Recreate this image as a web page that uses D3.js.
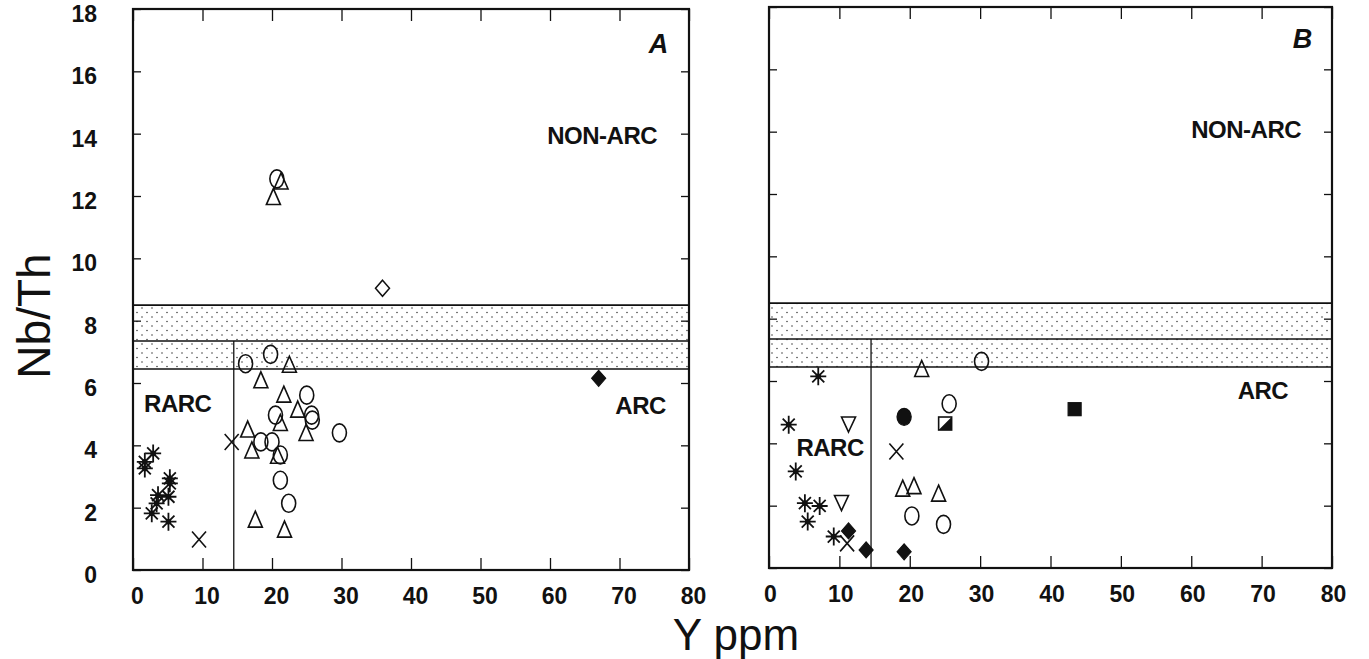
<!DOCTYPE html>
<html lang="en">
<head>
<meta charset="UTF-8">
<title>Nb/Th vs Y ppm</title>
<script src="https://cdn.jsdelivr.net/npm/d3@7/dist/d3.min.js"></script>
<style>
    body { margin: 0; background: #fff; }
    svg { font-family: "Liberation Sans", Arial, sans-serif; }
</style>
</head>
<body>
<div id="chart"></div>
<script>
    // axis ticks
    const xTicks = [0, 10, 20, 30, 40, 50, 60, 70, 80];
    const yTicks = [0, 2, 4, 6, 8, 10, 12, 14, 16, 18];

    // stippled band and RARC divider (Nb/Th and Y ppm)
    const bandLimits = [6.45, 7.35, 8.5];
    const rarcY = 14.5;

    // panel A points, [Y ppm, Nb/Th]
    const aAsterisk = [[2.9, 3.74], [1.7, 3.47], [1.7, 3.26], [5.3, 2.94], [5.3, 2.78],
        [3.6, 2.40], [5.1, 2.35], [3.4, 2.14], [2.7, 1.82], [5.1, 1.55]];
    const aCross = [[9.5, 0.98], [14.2, 4.11]];
    const aCircle = [[16.2, 6.62], [19.8, 6.92], [25.0, 5.61], [20.5, 4.97], [25.7, 4.97],
        [25.8, 4.81], [29.7, 4.40], [18.4, 4.11], [20.0, 4.11], [21.2, 3.69],
        [21.2, 2.88], [22.4, 2.14], [20.7, 12.55]];
    const aTriangle = [[22.5, 6.57], [18.4, 6.07], [21.7, 5.61], [23.7, 5.13], [21.2, 4.70],
        [24.9, 4.38], [16.5, 4.49], [17.1, 3.82], [20.8, 3.65], [17.6, 1.60],
        [21.8, 1.28], [21.3, 12.45], [20.2, 11.95]];
    const aDiamond = [[35.9, 9.04]];
    const aDiamondFilled = [[67.0, 6.15]];

    // panel B points
    const bAsterisk = [[7.0, 6.15], [2.8, 4.60], [3.8, 3.10], [5.1, 2.08], [7.2, 1.99],
        [5.5, 1.49], [9.2, 1.01]];
    const bTriangleDown = [[11.3, 4.62], [10.3, 2.10]];
    const bDiamondFilled = [[11.3, 1.19], [13.8, 0.58], [19.2, 0.52]];
    const bCross = [[11.1, 0.79], [18.1, 3.74]];
    const bCircleFilled = [[19.2, 4.85]];
    const bSquareHalf = [[25.1, 4.62]];
    const bSquareFilled = [[43.5, 5.08]];
    const bCircle = [[25.6, 5.27], [20.3, 1.67], [24.8, 1.40], [30.2, 6.63]];
    const bTriangle = [[21.7, 6.37], [19.0, 2.53], [20.6, 2.61], [24.1, 2.37]];

    const w = 1369;
    const h = 659;

    const svg = d3.select('#chart')
        .append('svg')
        .attr('width', w)
        .attr('height', h);

    // dotted fill for the transition band
    const pattern = svg.append('defs')
        .append('pattern')
        .attr('id', 'stipple')
        .attr('patternUnits', 'userSpaceOnUse')
        .attr('width', 10)
        .attr('height', 9);
    pattern.append('circle').attr('cx', 2).attr('cy', 2).attr('r', 0.8).attr('fill', '#444');
    pattern.append('circle').attr('cx', 7).attr('cy', 6.5).attr('r', 0.8).attr('fill', '#444');

    // marker shapes, drawn around 0,0
    const shapes = {
        circle: g => g.append('ellipse').attr('rx', 7).attr('ry', 9)
            .attr('fill', 'none').attr('stroke', '#111').attr('stroke-width', 1.6),
        circleFilled: g => g.append('ellipse').attr('rx', 7).attr('ry', 8.5)
            .attr('fill', '#111').attr('stroke', '#111').attr('stroke-width', 1.4),
        triangle: g => g.append('path').attr('d', 'M0,-9L7,7L-7,7Z')
            .attr('fill', 'none').attr('stroke', '#111').attr('stroke-width', 1.6),
        triangleDown: g => g.append('path').attr('d', 'M0,8L7,-7L-7,-7Z')
            .attr('fill', 'none').attr('stroke', '#111').attr('stroke-width', 1.6),
        diamond: g => g.append('path').attr('d', 'M0,-8L7,0L0,8L-7,0Z')
            .attr('fill', 'none').attr('stroke', '#111').attr('stroke-width', 1.5),
        diamondFilled: g => g.append('path').attr('d', 'M0,-8L7,0L0,8L-7,0Z')
            .attr('fill', '#111').attr('stroke', '#111').attr('stroke-width', 1.2),
        cross: g => g.append('path').attr('d', 'M-7,-8L7,8M7,-8L-7,8')
            .attr('stroke', '#111').attr('stroke-width', 1.6),
        asterisk: g => {
            g.append('path').attr('d', 'M0,-9V9M-8,0H8M-6,-6L6,6M6,-6L-6,6')
                .attr('stroke', '#111').attr('stroke-width', 1.8);
            g.append('circle').attr('r', 2.8).attr('fill', '#111');
        },
        squareHalf: g => {
            g.append('path').attr('d', 'M6,-7L6,6L-7,6Z').attr('fill', '#111');
            g.append('rect').attr('x', -7).attr('y', -7).attr('width', 13).attr('height', 13)
                .attr('fill', 'none').attr('stroke', '#111').attr('stroke-width', 1.6);
        },
        squareFilled: g => g.append('rect').attr('x', -7).attr('y', -7).attr('width', 13).attr('height', 13)
            .attr('fill', '#111').attr('stroke', '#111').attr('stroke-width', 1.2)
    };

    function drawPanel(opt) {
        const x = d3.scaleLinear().domain([0, 80]).range(opt.xRange);
        const y = d3.scaleLinear().domain([0, 18]).range(opt.yRange);
        const p = svg.append('g');

        // stippled band
        p.append('rect')
            .attr('x', x(0))
            .attr('y', y(bandLimits[2]))
            .attr('width', x(80) - x(0))
            .attr('height', y(bandLimits[0]) - y(bandLimits[2]))
            .attr('fill', 'url(#stipple)');
        bandLimits.forEach(v => {
            p.append('line')
                .attr('x1', x(0)).attr('x2', x(80))
                .attr('y1', y(v)).attr('y2', y(v))
                .attr('stroke', '#111').attr('stroke-width', 1.6);
        });
        p.append('line')
            .attr('x1', x(rarcY)).attr('x2', x(rarcY))
            .attr('y1', y(0)).attr('y2', y(bandLimits[1]))
            .attr('stroke', '#111').attr('stroke-width', 1.3);

        // axes with inward ticks
        const bottom = p.append('g')
            .attr('transform', `translate(0, ${y(0)})`)
            .call(d3.axisBottom(x).tickValues(xTicks).tickSize(-12).tickPadding(18).tickFormat(d3.format('d')));
        bottom.selectAll('text').attr('dx', opt.xLabelShift);
        p.append('g')
            .attr('transform', `translate(0, ${y(18)})`)
            .call(d3.axisTop(x).tickValues(xTicks).tickSize(-12).tickFormat(''));
        const left = p.append('g')
            .attr('transform', `translate(${x(0)}, 0)`)
            .call(d3.axisLeft(y).tickValues(yTicks).tickSize(-8).tickPadding(36)
                .tickFormat(opt.yLabels ? d3.format('d') : ''));
        left.selectAll('text').attr('dy', '0.55em');
        p.append('g')
            .attr('transform', `translate(${x(80)}, 0)`)
            .call(d3.axisRight(y).tickValues(yTicks).tickSize(-8).tickFormat(''));

        p.selectAll('.domain').remove();
        p.selectAll('.tick line').attr('stroke', '#111').attr('stroke-width', 1.3);
        p.selectAll('.tick text')
            .attr('fill', '#111')
            .style('font-size', '23px')
            .style('font-weight', 'bold');

        // frame
        p.append('rect')
            .attr('x', x(0)).attr('y', y(18))
            .attr('width', x(80) - x(0)).attr('height', y(0) - y(18))
            .attr('fill', 'none').attr('stroke', '#111').attr('stroke-width', 2.2);

        // points
        opt.series.forEach(([pts, shape]) => {
            pts.forEach(d => {
                const g = p.append('g').attr('transform', `translate(${x(d[0])}, ${y(d[1])})`);
                shapes[shape](g);
            });
        });

        // region labels
        const label = (t, xv, yv) => p.append('text')
            .attr('x', x(xv)).attr('y', y(yv))
            .attr('fill', '#111')
            .style('font-size', '24px')
            .style('font-weight', 'bold')
            .style('letter-spacing', '-0.5px')
            .text(t);
        label('NON-ARC', opt.nonArc[0], opt.nonArc[1]);
        label('ARC', opt.arc[0], opt.arc[1]);
        label('RARC', opt.rarc[0], opt.rarc[1]);

        p.append('text')
            .attr('x', x(opt.letter[1]))
            .attr('y', y(opt.letter[2]))
            .attr('text-anchor', 'middle')
            .attr('fill', '#111')
            .style('font-size', '27px')
            .style('font-style', 'italic')
            .style('font-weight', 'bold')
            .text(opt.letter[0]);
    }

    drawPanel({
        xRange: [133, 689],
        yRange: [570, 9],
        yLabels: true,
        xLabelShift: 4,
        nonArc: [59.6, 13.68],
        arc: [69.4, 5.0],
        rarc: [1.6, 5.08],
        letter: ['A', 75.6, 16.6],
        series: [[aAsterisk, 'asterisk'], [aCross, 'cross'], [aCircle, 'circle'],
            [aTriangle, 'triangle'], [aDiamond, 'diamond'], [aDiamondFilled, 'diamondFilled']]
    });

    drawPanel({
        xRange: [769, 1332],
        yRange: [568, 7],
        yLabels: false,
        xLabelShift: 1,
        nonArc: [60.0, 13.8],
        arc: [66.6, 5.43],
        rarc: [3.9, 3.6],
        letter: ['B', 75.8, 16.7],
        series: [[bAsterisk, 'asterisk'], [bTriangleDown, 'triangleDown'], [bDiamondFilled, 'diamondFilled'],
            [bCross, 'cross'], [bCircleFilled, 'circleFilled'], [bSquareHalf, 'squareHalf'],
            [bSquareFilled, 'squareFilled'], [bCircle, 'circle'], [bTriangle, 'triangle']]
    });

    // axis titles
    svg.append('text')
        .attr('transform', 'translate(50, 316) rotate(-90)')
        .attr('text-anchor', 'middle')
        .attr('fill', '#111')
        .style('font-size', '46px')
        .text('Nb/Th');

    svg.append('text')
        .attr('x', 736)
        .attr('y', 649.5)
        .attr('text-anchor', 'middle')
        .attr('fill', '#111')
        .style('font-size', '44px')
        .text('Y ppm');
</script>
</body>
</html>
